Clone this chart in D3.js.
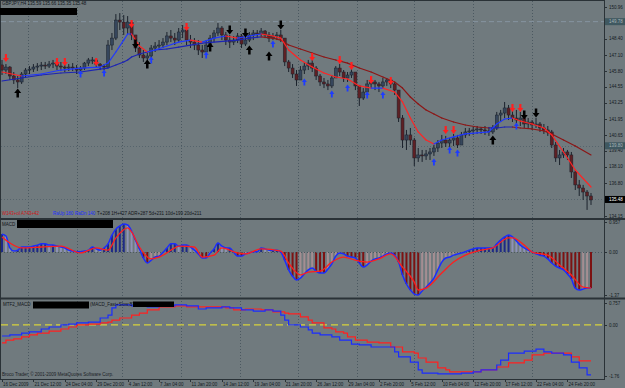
<!DOCTYPE html>
<html>
<head>
<meta charset="utf-8">
<script src="https://cdn.jsdelivr.net/npm/d3@7"></script>
<style>
  body { margin: 0; background: #707a7e; }
  text { font-family: "Liberation Sans Narrow", "Liberation Sans", Arial, sans-serif; font-size: 4.5px; }
</style>
</head>
<body>
<svg id="chart"></svg>
<script>
// ---- price candles (one entry per bar, open = previous close) ----
const firstOpen = 146.30;
const candleHigh = [
  146.70,146.37,146.21,145.73,145.41,145.73,146.05,146.21,146.37,146.45,
  146.54,146.54,146.62,146.70,146.45,146.54,146.45,146.37,146.45,146.29,
  146.21,146.54,146.86,146.94,146.70,146.45,146.37,148.30,148.87,150.39,
  150.47,150.31,150.23,149.91,148.71,148.14,147.50,147.34,147.90,148.14,
  148.30,148.46,148.95,149.11,148.87,149.27,149.51,149.11,148.71,148.46,
  148.30,147.90,148.30,148.71,149.11,149.67,149.43,148.95,148.71,148.63,
  148.87,148.79,148.63,148.95,149.11,149.11,149.27,149.11,148.95,148.87,
  148.95,149.11,148.46,146.70,146.37,145.89,146.21,146.54,146.70,146.70,
  146.21,145.57,145.25,145.09,145.49,146.21,146.37,145.89,145.73,146.05,
  145.73,144.69,144.44,145.09,145.25,145.09,144.93,145.25,145.25,145.09,
  144.93,144.28,142.27,141.07,141.23,140.43,139.62,139.46,139.46,139.62,
  139.86,140.26,140.67,140.59,140.43,140.75,140.67,140.91,141.23,141.23,
  141.31,141.39,141.31,141.39,141.31,141.47,142.52,142.68,143.32,143.08,
  142.84,142.68,142.52,142.19,142.03,141.87,142.03,141.71,141.55,141.39,
  141.07,140.10,139.46,139.62,139.46,139.30,137.85,137.05,136.65,136.24,136.00
];
const candleLow = [
  145.49,145.57,145.09,144.77,144.44,144.77,145.25,145.57,145.73,145.81,
  145.89,145.97,146.05,146.05,145.89,145.81,145.73,145.81,145.81,145.57,
  145.65,145.89,146.21,146.37,146.13,145.89,145.89,146.05,147.50,148.30,
  149.11,148.71,148.79,148.30,147.34,146.86,146.54,146.45,146.86,147.34,
  147.50,147.66,147.90,148.14,147.90,148.14,148.46,147.90,147.66,147.50,
  147.10,146.86,147.34,147.66,148.14,148.63,148.30,147.90,147.66,147.90,
  148.06,147.66,147.82,148.14,148.30,148.46,148.63,148.46,148.14,148.30,
  148.30,148.14,146.21,145.73,145.25,144.61,145.09,145.57,145.89,145.73,
  145.09,144.61,144.44,144.28,144.44,145.25,145.41,144.93,144.93,145.25,
  144.28,143.00,143.48,144.12,144.44,144.28,144.12,144.44,144.61,144.44,
  143.88,141.71,139.62,139.46,139.86,138.17,138.50,138.50,138.66,138.66,
  138.98,139.30,139.62,139.70,139.62,139.78,139.62,139.86,140.43,140.59,
  140.67,140.75,140.75,140.67,140.59,140.75,141.07,141.71,142.03,141.87,
  141.71,141.55,141.39,141.23,141.23,141.07,141.23,140.91,140.75,140.59,
  139.62,138.50,138.25,138.82,138.66,137.21,136.24,135.76,135.44,134.64,135.04
];
const candleClose = [
  145.89,146.13,145.41,145.09,144.93,145.57,145.89,145.97,146.13,146.21,
  146.29,146.21,146.37,146.45,146.21,146.13,146.05,146.13,146.05,145.89,
  146.05,146.45,146.70,146.70,146.37,146.21,146.13,147.90,148.46,149.91,
  149.75,149.27,149.75,148.71,147.66,147.10,146.86,147.02,147.66,147.82,
  147.90,148.14,148.63,148.46,148.30,148.95,149.11,148.30,148.14,147.90,
  147.50,147.34,147.90,148.46,148.87,149.27,148.71,148.30,148.14,148.30,
  148.63,147.98,148.30,148.71,148.87,148.79,149.03,148.71,148.46,148.63,
  148.71,148.46,146.54,146.05,145.57,145.09,145.89,146.21,146.45,146.05,
  145.41,144.93,144.77,144.61,145.25,146.05,145.73,145.25,145.49,145.73,
  144.61,143.64,144.12,144.77,144.93,144.77,144.61,144.93,145.09,144.77,
  144.28,142.03,140.26,140.67,140.26,138.82,139.06,138.98,139.14,139.30,
  139.62,140.02,140.26,140.02,140.26,140.43,139.86,140.67,140.91,140.99,
  141.07,141.15,141.07,140.99,140.91,141.23,142.27,142.43,142.84,142.27,
  142.03,141.87,142.03,141.55,141.71,141.47,141.55,141.23,141.07,140.91,
  139.86,138.82,139.06,139.30,139.06,137.69,136.65,136.40,136.08,135.76,135.44
];

// ---- moving averages (sampled at these bars) ----
const maBar = [0,5,10,15,20,25,27,29,31,32,33,35,37,39,42,45,48,51,54,57,60,63,66,69,71,73,76,79,82,85,
  88,91,94,97,100,102,104,106,108,110,112,115,118,121,124,126,128,130,132,135,138,140,143,146,150];
const fastMA = [145.73,145.41,145.57,145.89,146.05,146.13,146.45,147.34,148.30,148.79,148.79,147.82,147.34,147.50,
  147.82,148.14,148.30,148.14,148.46,148.63,148.46,148.63,148.79,148.63,148.46,147.50,146.70,146.13,145.65,145.33,
  145.17,144.61,144.44,144.44,144.12,143.32,142.03,140.91,140.26,139.94,140.26,140.51,140.75,140.83,140.91,141.55,
  141.95,142.03,141.79,141.55,141.23,140.67,139.30,137.85,136.48];
const slowMA = [145.01,145.25,145.49,145.65,145.73,145.97,146.05,146.29,146.54,146.70,146.94,147.18,147.34,147.50,
  147.58,147.74,147.90,148.06,148.14,148.22,148.30,148.46,148.55,148.46,148.30,147.90,147.58,147.26,146.94,146.70,
  146.45,146.05,145.73,145.33,144.93,144.44,143.72,143.16,142.68,142.35,142.03,141.71,141.47,141.31,141.23,141.23,
  141.31,141.31,141.23,141.15,140.99,140.75,140.26,139.78,139.06];

// ---- signal arrows [bar, price] ----
const redDown = [[1,146.86],[14,146.54],[16,146.54],[24,146.54],[33,149.59],[47,149.35],[79,146.94],[86,146.70],
  [89,146.21],[94,145.09],[99,145.01],[113,141.07],[115,141.07],[130,142.84],[132,142.84]];
const blueUp = [[20,145.57],[26,145.65],[38,146.70],[52,147.10],[69,147.98],[77,144.93],[84,143.96],[88,144.44],
  [93,143.88],[97,143.88],[110,138.50],[114,139.46],[116,139.22],[131,141.39]];
const blackUp = [[4,144.04],[37,146.37],[53,147.74],[63,147.50],[68,147.02],[125,140.26]];
const blackDown = [[34,147.98],[58,149.11],[62,148.87],[71,149.51],[133,142.27],[136,142.43]];

// ---- MACD panel ----
const macdMain = [
  0.57,0.51,0.13,0.03,0.06,0.16,0.16,0.16,0.19,0.22,
  0.26,0.26,0.22,0.22,0.19,0.16,0.13,0.06,0.03,0.01,
  0.01,0.03,0.06,0.16,0.10,0.06,0.13,0.26,0.54,0.73,
  0.83,0.89,0.86,0.67,0.38,0.10,-0.19,-0.35,-0.26,-0.16,
  -0.13,-0.01,0.13,0.26,0.26,0.19,0.22,0.22,0.16,0.06,
  -0.06,-0.19,-0.19,-0.03,0.10,0.29,0.19,0.13,0.13,-0.01,
  -0.13,-0.13,-0.06,-0.03,0.01,0.01,0.13,0.10,0.06,0.06,
  0.06,0.00,-0.26,-0.57,-0.77,-0.89,-0.83,-0.70,-0.57,-0.51,
  -0.61,-0.67,-0.67,-0.54,-0.38,-0.13,-0.03,-0.06,-0.13,-0.16,
  -0.19,-0.35,-0.48,-0.41,-0.29,-0.22,-0.19,-0.13,-0.06,-0.03,
  -0.10,-0.32,-0.73,-1.02,-1.21,-1.34,-1.37,-1.24,-1.12,-0.99,
  -0.83,-0.57,-0.32,-0.19,-0.16,-0.10,-0.06,-0.03,0.01,0.06,
  0.10,0.13,0.13,0.13,0.13,0.13,0.26,0.38,0.48,0.54,
  0.48,0.35,0.22,0.13,0.06,0.00,-0.06,-0.10,-0.13,-0.22,
  -0.35,-0.45,-0.51,-0.57,-0.70,-0.86,-1.15,-1.21,-1.18,-1.15,-1.15
];
const signalBar = [0,2,5,10,15,20,24,27,29,32,33,35,38,40,44,45,49,51,54,56,60,62,66,71,73,76,78,81,84,87,
  90,93,96,99,102,105,106,108,112,115,118,122,125,129,130,133,135,139,142,145,148,150];
const macdSignal = [0.48,0.29,0.13,0.16,0.19,-0.03,0.13,0.06,0.45,0.77,0.64,0.16,-0.22,-0.16,0.13,0.19,0.16,-0.16,
  -0.10,0.13,-0.03,-0.06,0.10,0.03,-0.35,-0.73,-0.64,-0.61,-0.32,-0.16,-0.26,-0.32,-0.22,-0.06,-0.48,-0.96,-1.21,
  -1.15,-0.67,-0.32,-0.10,0.06,0.13,0.45,0.45,0.22,0.00,-0.10,-0.41,-0.73,-1.12,-1.15];

// ---- MTF2_MACD panel ----
const mtfBlueBar = [0,2,5,7,10,12,15,17,19,22,24,25,27,28,29,31,33,37,40,44,47,50,52,56,58,61,64,67,69,71,
  72,73,76,78,79,81,84,86,89,91,94,99,100,101,104,106,107,111,114,117,120,122,126,127,129,133,136,138,140,143,
  145,147,149,150];
const mtfBlue = [-0.38,-0.34,-0.28,-0.24,-0.14,-0.07,0.00,0.03,0.07,0.10,0.10,0.24,0.34,0.59,0.69,0.69,0.66,0.62,
  0.66,0.69,0.66,0.55,0.59,0.62,0.59,0.52,0.48,0.52,0.48,0.34,0.17,0.00,-0.07,-0.17,-0.28,-0.34,-0.41,-0.52,-0.66,
  -0.69,-0.76,-0.76,-0.93,-1.10,-1.28,-1.55,-1.66,-1.69,-1.69,-1.66,-1.62,-1.55,-1.38,-1.21,-0.97,-0.90,-0.83,
  -0.93,-0.97,-1.03,-1.28,-1.48,-1.72,-1.72];
const mtfRedBar = [0,1,3,5,7,9,12,15,17,19,22,25,27,28,30,33,35,37,40,44,47,50,54,57,59,62,66,69,72,73,
  76,78,79,82,84,85,87,88,90,93,96,99,102,105,106,108,111,113,114,120,122,126,129,133,135,138,144,145,147,150];
const mtfRed = [-0.62,-0.52,-0.48,-0.41,-0.34,-0.28,-0.21,-0.14,-0.07,0.00,0.03,0.07,0.10,0.17,0.24,0.34,0.41,0.52,
  0.62,0.66,0.62,0.62,0.62,0.59,0.52,0.55,0.52,0.45,0.41,0.38,0.28,0.17,0.07,-0.10,-0.14,-0.24,-0.28,-0.41,-0.52,
  -0.59,-0.62,-0.76,-0.93,-0.97,-1.14,-1.28,-1.48,-1.55,-1.62,-1.62,-1.55,-1.45,-1.31,-1.21,-1.03,-0.97,-0.97,
  -1.10,-1.24,-1.24];

// ---- axes ----
const timeTickBar = [0,8,16,24,32,40,48,56,64,72,80,88,96,104,112,120,128,136,144];
const timeLabels = ["16 Dec 2009","21 Dec 12:00","24 Dec 04:00","29 Dec 20:00","4 Jan 12:00","7 Jan 04:00",
  "11 Jan 20:00","14 Jan 12:00","19 Jan 04:00","21 Jan 20:00","26 Jan 12:00","29 Jan 04:00","2 Feb 20:00",
  "5 Feb 12:00","10 Feb 04:00","12 Feb 20:00","17 Feb 12:00","22 Feb 04:00","24 Feb 20:00"];
const weekGridBar = [6.5,19,30.5,45.5,60.5,75.5,90.5,105,120,135];
const priceTicks = [150.96,148.40,147.10,145.80,144.55,143.25,141.95,140.65,139.40,138.10,136.80,134.15];
const levelLines = [149.78, 139.80];
const bidPrice = 135.48;
const macdTicks = [0.957, 0, -1.37];
const mtfTicks = [0.757, 0, -1.76];

// ---------------------------------------------------------------
const W = 625, H = 388, axisX = 604;
const svg = d3.select("#chart").attr("width", W).attr("height", H);
svg.append("rect").attr("width", W).attr("height", H).attr("fill", "#707a7e");

const x = d3.scaleLinear().domain([0, 150]).range([2, 591]);
const yP = d3.scaleLinear().domain([134.15, 150.96]).range([216, 7]);
const yM = d3.scaleLinear().domain([-1.37, 0.957]).range([295, 222]);
const yT = d3.scaleLinear().domain([-1.76, 0.757]).range([376, 303]);

// week grid
svg.append("g").selectAll("line").data(weekGridBar).join("line")
  .attr("x1", d => Math.round(x(d)) + 0.5).attr("x2", d => Math.round(x(d)) + 0.5)
  .attr("y1", 1).attr("y2", 379)
  .attr("stroke", "#4b5860").attr("stroke-dasharray", "1,2");

// horizontal levels in price panel
svg.append("line").attr("x1", 1).attr("x2", axisX).attr("y1", yP(levelLines[0])).attr("y2", yP(levelLines[0]))
  .attr("stroke", "#8795a0").attr("stroke-dasharray", "5,3");
[levelLines[1], bidPrice].forEach(v => {
  svg.append("line").attr("x1", 1).attr("x2", axisX).attr("y1", Math.round(yP(v)) + 0.5).attr("y2", Math.round(yP(v)) + 0.5)
    .attr("stroke", "#56646c").attr("stroke-dasharray", "1,2");
});

// ---- moving averages, coloured by direction ----
function maSegments(vals, upColor, downColor, width) {
  const g = svg.append("g");
  for (let i = 0; i < vals.length - 1; i++) {
    g.append("line")
      .attr("x1", x(maBar[i])).attr("y1", yP(vals[i]))
      .attr("x2", x(maBar[i + 1])).attr("y2", yP(vals[i + 1]))
      .attr("stroke", vals[i + 1] >= vals[i] ? upColor : downColor)
      .attr("stroke-width", width).attr("stroke-linecap", "round");
  }
}

// ---- candles ----
const candles = candleClose.map((c, i) => ({
  i, o: i === 0 ? firstOpen : candleClose[i - 1], h: candleHigh[i], l: candleLow[i], c
}));
const cg = svg.append("g");
cg.selectAll("line").data(candles).join("line")
  .attr("x1", d => x(d.i)).attr("x2", d => x(d.i))
  .attr("y1", d => yP(d.h)).attr("y2", d => yP(d.l))
  .attr("stroke", "#1b222c").attr("stroke-width", 1);
cg.selectAll("rect").data(candles).join("rect")
  .attr("x", d => x(d.i) - 1.5).attr("width", 3)
  .attr("y", d => yP(Math.max(d.o, d.c)))
  .attr("height", d => Math.max(1, Math.abs(yP(d.o) - yP(d.c))))
  .attr("fill", d => d.c >= d.o ? "#36465c" : "#5e2024")
  .attr("stroke", "#1b222c").attr("stroke-width", 0.5);

maSegments(slowMA, "#1c24b4", "#8c1616", 1.2);
maSegments(fastMA, "#2038ff", "#ff2424", 1.2);

// ---- arrows ----
function arrowPath(w, h, up) {
  const s = w * 0.18, k = up ? -1 : 1;
  const pts = [[-s, -k * h / 2], [s, -k * h / 2], [s, 0], [w / 2, 0], [0, k * h / 2], [-w / 2, 0], [-s, 0]];
  return "M" + pts.map(p => p.join(",")).join("L") + "Z";
}
function drawArrows(data, color, w, h, up) {
  svg.append("g").selectAll("path").data(data).join("path")
    .attr("d", arrowPath(w, h, up))
    .attr("transform", d => `translate(${x(d[0])},${yP(d[1])})`)
    .attr("fill", color);
}
drawArrows(redDown, "#ff2020", 6, 8, false);
drawArrows(blueUp, "#1e3cff", 5, 7, true);
drawArrows(blackUp, "#000000", 7, 9, true);
drawArrows(blackDown, "#000000", 7, 9, false);

// ---- MACD panel ----
const hist = svg.append("g");
hist.selectAll("rect").data(macdMain).join("rect")
  .attr("x", (d, i) => x(i) - 1).attr("width", 2)
  .attr("y", d => Math.min(yM(0), yM(d)))
  .attr("height", d => Math.abs(yM(d) - yM(0)))
  .attr("fill", (d, i) => {
    const prev = i > 0 ? macdMain[i - 1] : d;
    if (d >= 0) return d >= prev ? "#1e2a86" : "#8e93b6";
    return d <= prev ? "#7c1212" : "#a48e92";
  });
svg.append("line").attr("x1", 1).attr("x2", axisX).attr("y1", Math.round(yM(0)) + 0.5).attr("y2", Math.round(yM(0)) + 0.5)
  .attr("stroke", "#4b5860").attr("stroke-dasharray", "1,2");
svg.append("path").datum(macdMain)
  .attr("d", d3.line().x((d, i) => x(i)).y(d => yM(d)).curve(d3.curveMonotoneX))
  .attr("fill", "none").attr("stroke", "#1a2cff").attr("stroke-width", 1.5);
svg.append("path").datum(macdSignal)
  .attr("d", d3.line().x((d, i) => x(signalBar[i])).y(d => yM(d)).curve(d3.curveMonotoneX))
  .attr("fill", "none").attr("stroke", "#ff1e1e").attr("stroke-width", 1.3);

// ---- MTF panel ----
svg.append("line").attr("x1", 1).attr("x2", axisX).attr("y1", yT(0)).attr("y2", yT(0))
  .attr("stroke", "#d6d23c").attr("stroke-width", 1.3).attr("stroke-dasharray", "7,4");
svg.append("path").datum(mtfRed)
  .attr("d", d3.line().x((d, i) => x(mtfRedBar[i])).y(d => yT(d)).curve(d3.curveStepAfter))
  .attr("fill", "none").attr("stroke", "#ff2020").attr("stroke-width", 1.2);
svg.append("path").datum(mtfBlue)
  .attr("d", d3.line().x((d, i) => x(mtfBlueBar[i])).y(d => yT(d)).curve(d3.curveStepAfter))
  .attr("fill", "none").attr("stroke", "#1a2cff").attr("stroke-width", 1.2);

// ---- frame and separators ----
const frame = "#2a3237";
svg.append("rect").attr("x", 0.5).attr("y", 0.5).attr("width", axisX).attr("height", 379)
  .attr("fill", "none").attr("stroke", frame);
svg.append("rect").attr("x", 0).attr("y", 218).attr("width", axisX + 21).attr("height", 2).attr("fill", frame);
svg.append("rect").attr("x", 0).attr("y", 297.5).attr("width", axisX + 21).attr("height", 2).attr("fill", frame);

// ---- right axis labels ----
function rightAxis(scale, ticks, fmt) {
  const g = svg.append("g");
  g.selectAll("line").data(ticks).join("line")
    .attr("x1", axisX).attr("x2", axisX + 3)
    .attr("y1", d => Math.round(scale(d)) + 0.5).attr("y2", d => Math.round(scale(d)) + 0.5)
    .attr("stroke", frame);
  g.selectAll("text").data(ticks).join("text")
    .attr("x", axisX + 5).attr("y", d => scale(d)).attr("dy", "0.35em")
    .attr("fill", "#141a1e").text(fmt);
}
rightAxis(yP, priceTicks, d => d.toFixed(2));
rightAxis(yM, macdTicks, d => d === 0 ? "0.00" : String(d));
rightAxis(yT, mtfTicks, d => d === 0 ? "0.00" : String(d));

function priceBox(v, fill, color) {
  svg.append("rect").attr("x", axisX + 1).attr("y", yP(v) - 3.5).attr("width", 20).attr("height", 7).attr("fill", fill);
  svg.append("text").attr("x", axisX + 5).attr("y", yP(v)).attr("dy", "0.35em").attr("fill", color).text(v.toFixed(2));
}
priceBox(levelLines[0], "#3f5860", "#a9b7bc");
priceBox(levelLines[1], "#3f5860", "#a9b7bc");
priceBox(bidPrice, "#000000", "#ffffff");

// ---- time axis ----
const tg = svg.append("g");
tg.selectAll("line").data(timeTickBar).join("line")
  .attr("x1", d => Math.round(x(d)) + 0.5).attr("x2", d => Math.round(x(d)) + 0.5)
  .attr("y1", 379).attr("y2", 382).attr("stroke", frame);
tg.selectAll("text").data(timeTickBar).join("text")
  .attr("x", d => x(d) + 1).attr("y", 386)
  .attr("fill", "#141a1e").text((d, i) => timeLabels[i]);

// ---- panel captions ----
svg.append("text").attr("x", 2).attr("y", 5).attr("fill", "#101418").text("GBPJPY,H4  135.59 135.66 135.35 135.48");
svg.append("rect").attr("x", 0).attr("y", 8).attr("width", 77).attr("height", 7).attr("fill", "#000");

const info = svg.append("text").attr("x", 2).attr("y", 215);
info.append("tspan").attr("fill", "#d01818").text("W143+ol A743+42");
info.append("tspan").attr("x", 53).attr("fill", "#2030ff").text("RaUp 180");
info.append("tspan").attr("x", 75).attr("fill", "#2030ff").text("RaDn 140");
info.append("tspan").attr("x", 97).attr("fill", "#101418").text("T+208  1H+427  ADR+287  5d+231  10d+199  20d+211");

svg.append("text").attr("x", 2).attr("y", 226).attr("fill", "#101418").text("MACD");
svg.append("rect").attr("x", 17).attr("y", 220).attr("width", 96).attr("height", 8).attr("fill", "#000");

svg.append("text").attr("x", 3).attr("y", 306).attr("fill", "#101418").text("MTF2_MACD");
svg.append("rect").attr("x", 33).attr("y", 301.5).attr("width", 56).attr("height", 7).attr("fill", "#000");
svg.append("text").attr("x", 90).attr("y", 306).attr("fill", "#101418").text("(MACD_Fast+Slow,BT)");
svg.append("rect").attr("x", 133).attr("y", 301.5).attr("width", 41).attr("height", 5.5).attr("fill", "#000");

svg.append("text").attr("x", 2).attr("y", 376).attr("fill", "#1c2226")
  .text("Broco Trader, \u00a9 2001-2009 MetaQuotes Software Corp.");
</script>
</body>
</html>
